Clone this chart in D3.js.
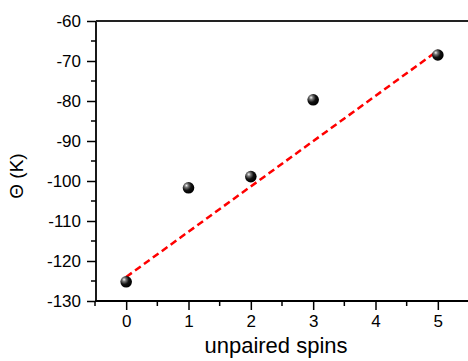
<!DOCTYPE html>
<html>
<head>
<meta charset="utf-8">
<script src="https://cdn.jsdelivr.net/npm/d3@7"></script>
<style>
  body { margin: 0; background: #fff; }
  svg { display: block; font-family: 'Liberation Sans', Arial, sans-serif; }
</style>
</head>
<body>
<script>
var width = 468,
    height = 361;

// measured points
var spins = [0, 1, 2, 3, 5];
var theta = [-125.2, -101.7, -98.9, -79.7, -68.5];

// linear fit (dashed red)
var fitX = [0, 5];
var fitY = [-124, -67.4];

var xTicks = [0, 1, 2, 3, 4, 5];
var yTicks = [-130, -120, -110, -100, -90, -80, -70, -60];

var plotLeft = 96, plotTop = 21, plotRight = 469, plotBottom = 301;

var svg = d3.select('body')
  .append('svg')
  .attr('width', width)
  .attr('height', height);

var x = d3.scaleLinear().domain([-0.5, 5.5]).range([plotLeft - 1, plotRight]);
var y = d3.scaleLinear().domain([-130, -60]).range([plotBottom, plotTop]);

var defs = svg.append('defs');
var grad = defs.append('radialGradient')
  .attr('id', 'ball')
  .attr('cx', '35%').attr('cy', '35%').attr('r', '65%')
  .attr('fx', '32%').attr('fy', '30%');
grad.append('stop').attr('offset', '0%').attr('stop-color', '#f4f4f4');
grad.append('stop').attr('offset', '25%').attr('stop-color', '#777');
grad.append('stop').attr('offset', '60%').attr('stop-color', '#111');
grad.append('stop').attr('offset', '100%').attr('stop-color', '#000');

// minor ticks
var xMinor = d3.range(-0.5, 5.51, 0.5).filter(function (d) { return d % 1 !== 0; });
var yMinor = d3.range(-125, -60, 10);

svg.selectAll('line.xminor')
  .data(xMinor)
  .enter().append('line')
  .attr('x1', function (d) { return x(d); })
  .attr('x2', function (d) { return x(d); })
  .attr('y1', plotBottom)
  .attr('y2', plotBottom + 5)
  .attr('stroke', '#000')
  .attr('stroke-width', 1.5);

svg.selectAll('line.yminor')
  .data(yMinor)
  .enter().append('line')
  .attr('y1', function (d) { return y(d); })
  .attr('y2', function (d) { return y(d); })
  .attr('x1', plotLeft - 5)
  .attr('x2', plotLeft)
  .attr('stroke', '#000')
  .attr('stroke-width', 1.5);

var xAxis = svg.append('g')
  .attr('transform', 'translate(0,' + plotBottom + ')')
  .call(d3.axisBottom(x).tickValues(xTicks).tickSize(9).tickPadding(5).tickFormat(d3.format('d')));

var yAxis = svg.append('g')
  .attr('transform', 'translate(' + plotLeft + ',0)')
  .call(d3.axisLeft(y).tickValues(yTicks).tickSize(9).tickPadding(6).tickFormat(function (d) { return String(d); }));

[xAxis, yAxis].forEach(function (g) {
  g.select('.domain').attr('stroke', '#000').attr('stroke-width', 1.8);
  g.selectAll('.tick line').attr('stroke', '#000').attr('stroke-width', 1.5);
  g.selectAll('.tick text')
    .attr('fill', '#000')
    .style('font-size', '17px')
    .style('font-family', "'Liberation Sans', Arial, sans-serif");
});
xAxis.select('.domain').attr('d', 'M' + (plotLeft - 1) + ',0H' + plotRight);
yAxis.select('.domain').attr('d', 'M0,' + plotBottom + 'V' + plotTop);

// top frame
svg.append('line')
  .attr('x1', plotLeft)
  .attr('x2', width)
  .attr('y1', plotTop)
  .attr('y2', plotTop)
  .attr('stroke', '#222')
  .attr('stroke-width', 2);

// fit line
var line = d3.line()
  .x(function (d, i) { return x(fitX[i]); })
  .y(function (d) { return y(d); });

svg.append('path')
  .datum(fitY)
  .attr('d', line)
  .attr('fill', 'none')
  .attr('stroke', '#ff0000')
  .attr('stroke-width', 2.5)
  .attr('stroke-dasharray', '7,4');

svg.selectAll('circle.pt')
  .data(spins)
  .enter().append('circle')
  .attr('class', 'pt')
  .attr('cx', function (d) { return x(d); })
  .attr('cy', function (d, i) { return y(theta[i]); })
  .attr('r', 5.8)
  .attr('fill', 'url(#ball)');

svg.append('text')
  .attr('x', 276)
  .attr('y', 353)
  .attr('text-anchor', 'middle')
  .style('font-size', '22px')
  .text('unpaired spins');

svg.append('text')
  .attr('transform', 'translate(23,176) rotate(-90)')
  .attr('text-anchor', 'middle')
  .style('font-size', '19px')
  .text('Θ (K)');
</script>
</body>
</html>
